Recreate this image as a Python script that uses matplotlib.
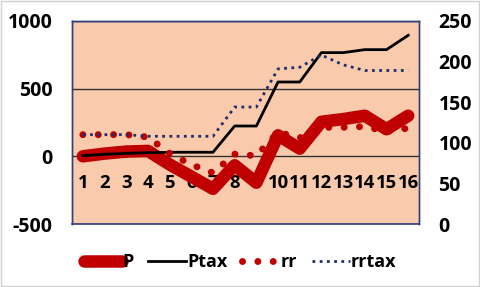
import numpy as np
import matplotlib.pyplot as plt

plt.rcParams['font.family'] = ['Open Sans', 'DejaVu Sans']
plt.rcParams['font.weight'] = 'bold'

# data
cats = list(range(1, 17))
cat_labels = [str(c) for c in cats]
P = [0, 20, 35, 40, -60, -150, -240, -66, -195, 155, 57, 255, 275, 300, 200, 300]
Ptax = [5, 15, 22, 27, 30, 30, 30, 224, 224, 549, 549, 766, 766, 788, 788, 894]
rr = [110, 110, 110, 107, 87, 73, 63, 86, 84, 113, 106, 119, 119, 120, 114, 118]
rrtax = [110, 110, 110, 108, 108, 108, 108, 144, 144, 191, 193, 208, 196, 189, 189, 189]

left_ticks = [-500, 0, 500, 1000]
right_ticks = [0, 50, 100, 150, 200, 250]

fig = plt.figure(figsize=(4.8, 2.87), dpi=100)
fig.patch.set_facecolor('white')
ax = fig.add_axes([0.15, 0.2195, 0.723, 0.7075])
ax.set_facecolor('#F9CAAB')
ax2 = ax.twinx()

x = np.array(cats)
lP, = ax.plot(x, P, color='#C00000', lw=9, solid_capstyle='round',
              solid_joinstyle='round', label='P', zorder=3)
lPt, = ax.plot(x, Ptax, color='black', lw=2, label='Ptax', zorder=4)
lrr, = ax2.plot(x, rr, color='#C00000', lw=5, linestyle=(0, (0.01, 2.2)),
                dash_capstyle='round', label='rr', zorder=3)
lrt, = ax2.plot(x, rrtax, color='#1F2F6E', lw=2, linestyle=(0, (1, 1.6)),
                label='rrtax', zorder=4)

ax.set_xlim(0.5, 16.5)
ax.set_ylim(-500, 1000)
ax2.set_ylim(0, 250)

# category axis crosses at 0 (set before labels, it resets ticks)
ax.spines['bottom'].set_position(('data', 0))
ax.spines['bottom'].set_visible(False)
ax.set_xticks(x)
ax.set_xticklabels(cat_labels)
ax.tick_params(axis='x', length=0, pad=13, labelsize=13.3)

ax.set_yticks(left_ticks)
ax.set_yticklabels([str(t) for t in left_ticks])
ax2.set_yticks(right_ticks)
ax2.set_yticklabels([str(t) for t in right_ticks])
ax.tick_params(axis='y', length=0, pad=14, labelsize=14)
ax2.tick_params(axis='y', length=0, pad=14, labelsize=14)

ax.yaxis.grid(True, color='#333333', lw=1)
ax.set_axisbelow(True)

for a in (ax, ax2):
    for s in ('left', 'right', 'top'):
        a.spines[s].set_color('#2F3F7F')
        a.spines[s].set_linewidth(1)
ax2.spines['bottom'].set_color('#2F3F7F')
ax2.spines['bottom'].set_linewidth(1.2)

fig.legend(handles=[lP, lPt, lrr, lrt], loc='center', bbox_to_anchor=(0.5, 0.087),
           ncol=4, frameon=False, prop={'size': 13, 'weight': 'bold'},
           handlelength=2.1, handletextpad=0.05, columnspacing=0.8)

border = plt.Rectangle((0.002, 0.004), 0.996, 0.992, transform=fig.transFigure,
                       fill=False, edgecolor='#D0D0D0', lw=1)
fig.patches.append(border)

fig.savefig('out.png', dpi=100)
